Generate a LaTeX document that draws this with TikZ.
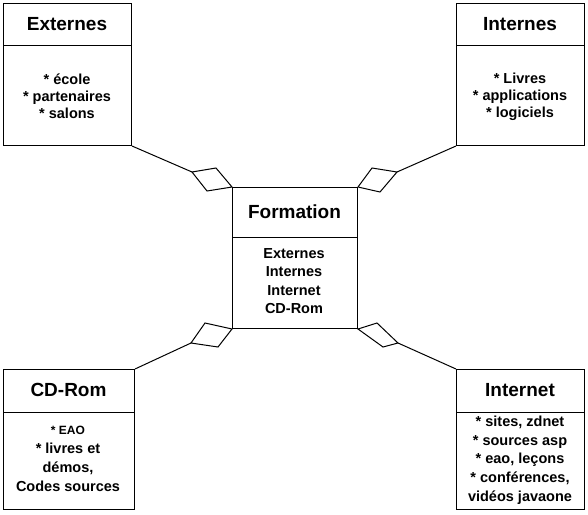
\documentclass[tikz,border=0pt]{standalone}
\usepackage{fontspec}
\setmainfont{Liberation Sans}
\begin{document}
\begin{tikzpicture}[x=1pt,y=-1pt,line width=1pt,
  box/.style={draw,rectangle,inner sep=0pt,anchor=north west},
  ttl/.style={font=\bfseries\fontsize{19}{22}\selectfont,inner sep=0pt},
  body/.style={font=\bfseries\fontsize{14.5}{18}\selectfont,align=center,inner sep=0pt},
  link/.style={draw,line width=1pt},
  dia/.style={draw,line width=1pt,line join=miter}]
\useasboundingbox (0,0) rectangle (588,514);

% Externes
\node[box,minimum width=128pt,minimum height=142pt] (ext) at (3,3) {};
\draw ([yshift=-42pt]ext.north west) -- ([yshift=-42pt]ext.north east);
\node[ttl] (extT) at (67,24) {Externes};
\node[body,font=\bfseries\fontsize{14.5}{17}\selectfont] (extB) at (67,96.5) {* école\\* partenaires\\* salons};

% Internes
\node[box,minimum width=128pt,minimum height=142pt] (int) at (456,3) {};
\draw ([yshift=-42pt]int.north west) -- ([yshift=-42pt]int.north east);
\node[ttl] (intT) at (520,24) {Internes};
\node[body,font=\bfseries\fontsize{14.5}{17}\selectfont] (intB) at (520,96.5) {* Livres\\* applications\\* logiciels};

% Formation
\node[box,minimum width=125pt,minimum height=141pt] (form) at (232,187) {};
\draw ([yshift=-50pt]form.north west) -- ([yshift=-50pt]form.north east);
\node[ttl] (formT) at (294.5,212) {Formation};
\node[body,font=\bfseries\fontsize{14.5}{18.3}\selectfont] (formB) at (294,281) {Externes\\Internes\\Internet\\CD-Rom};

% CD-Rom
\node[box,minimum width=131pt,minimum height=140pt] (cd) at (3,369) {};
\draw ([yshift=-43pt]cd.north west) -- ([yshift=-43pt]cd.north east);
\node[ttl] (cdT) at (68.5,390) {CD-Rom};
\node[body,font=\bfseries\fontsize{14.5}{19}\selectfont] (cdB) at (68,459) {{\fontsize{12}{19}\selectfont * EAO}\\* livres et\\démos,\\Codes sources};

% Internet
\node[box,minimum width=128pt,minimum height=140pt] (inet) at (456,369) {};
\draw ([yshift=-43pt]inet.north west) -- ([yshift=-43pt]inet.north east);
\node[ttl] (inetT) at (520,390) {Internet};
\node[body,font=\bfseries\fontsize{14.5}{18.75}\selectfont] (inetB) at (520,460) {* sites, zdnet\\* sources asp\\* eao, leçons\\* conférences,\\vidéos javaone};

% Diamonds (aggregation)
\coordinate (tlA) at (192,172);
\coordinate (tlB) at (216,168);
\coordinate (tlD) at (207,191);
\draw[dia] (form.north west) -- (tlB) -- (tlA) -- (tlD) -- cycle;
\draw[link] (ext.south east) -- (tlA);

\coordinate (trA) at (397,172);
\coordinate (trB) at (372,168);
\coordinate (trD) at (380,192);
\draw[dia] (form.north east) -- (trB) -- (trA) -- (trD) -- cycle;
\draw[link] (int.south west) -- (trA);

\coordinate (blA) at (191,343);
\coordinate (blB) at (205,323);
\coordinate (blD) at (218,347);
\draw[dia] (form.south west) -- (blB) -- (blA) -- (blD) -- cycle;
\draw[link] (cd.north east) -- (blA);

\coordinate (brA) at (398,343);
\coordinate (brB) at (377,323);
\coordinate (brD) at (383,347);
\draw[dia] (form.south east) -- (brB) -- (brA) -- (brD) -- cycle;
\draw[link] (inet.north west) -- (brA);
\end{tikzpicture}
\end{document}
